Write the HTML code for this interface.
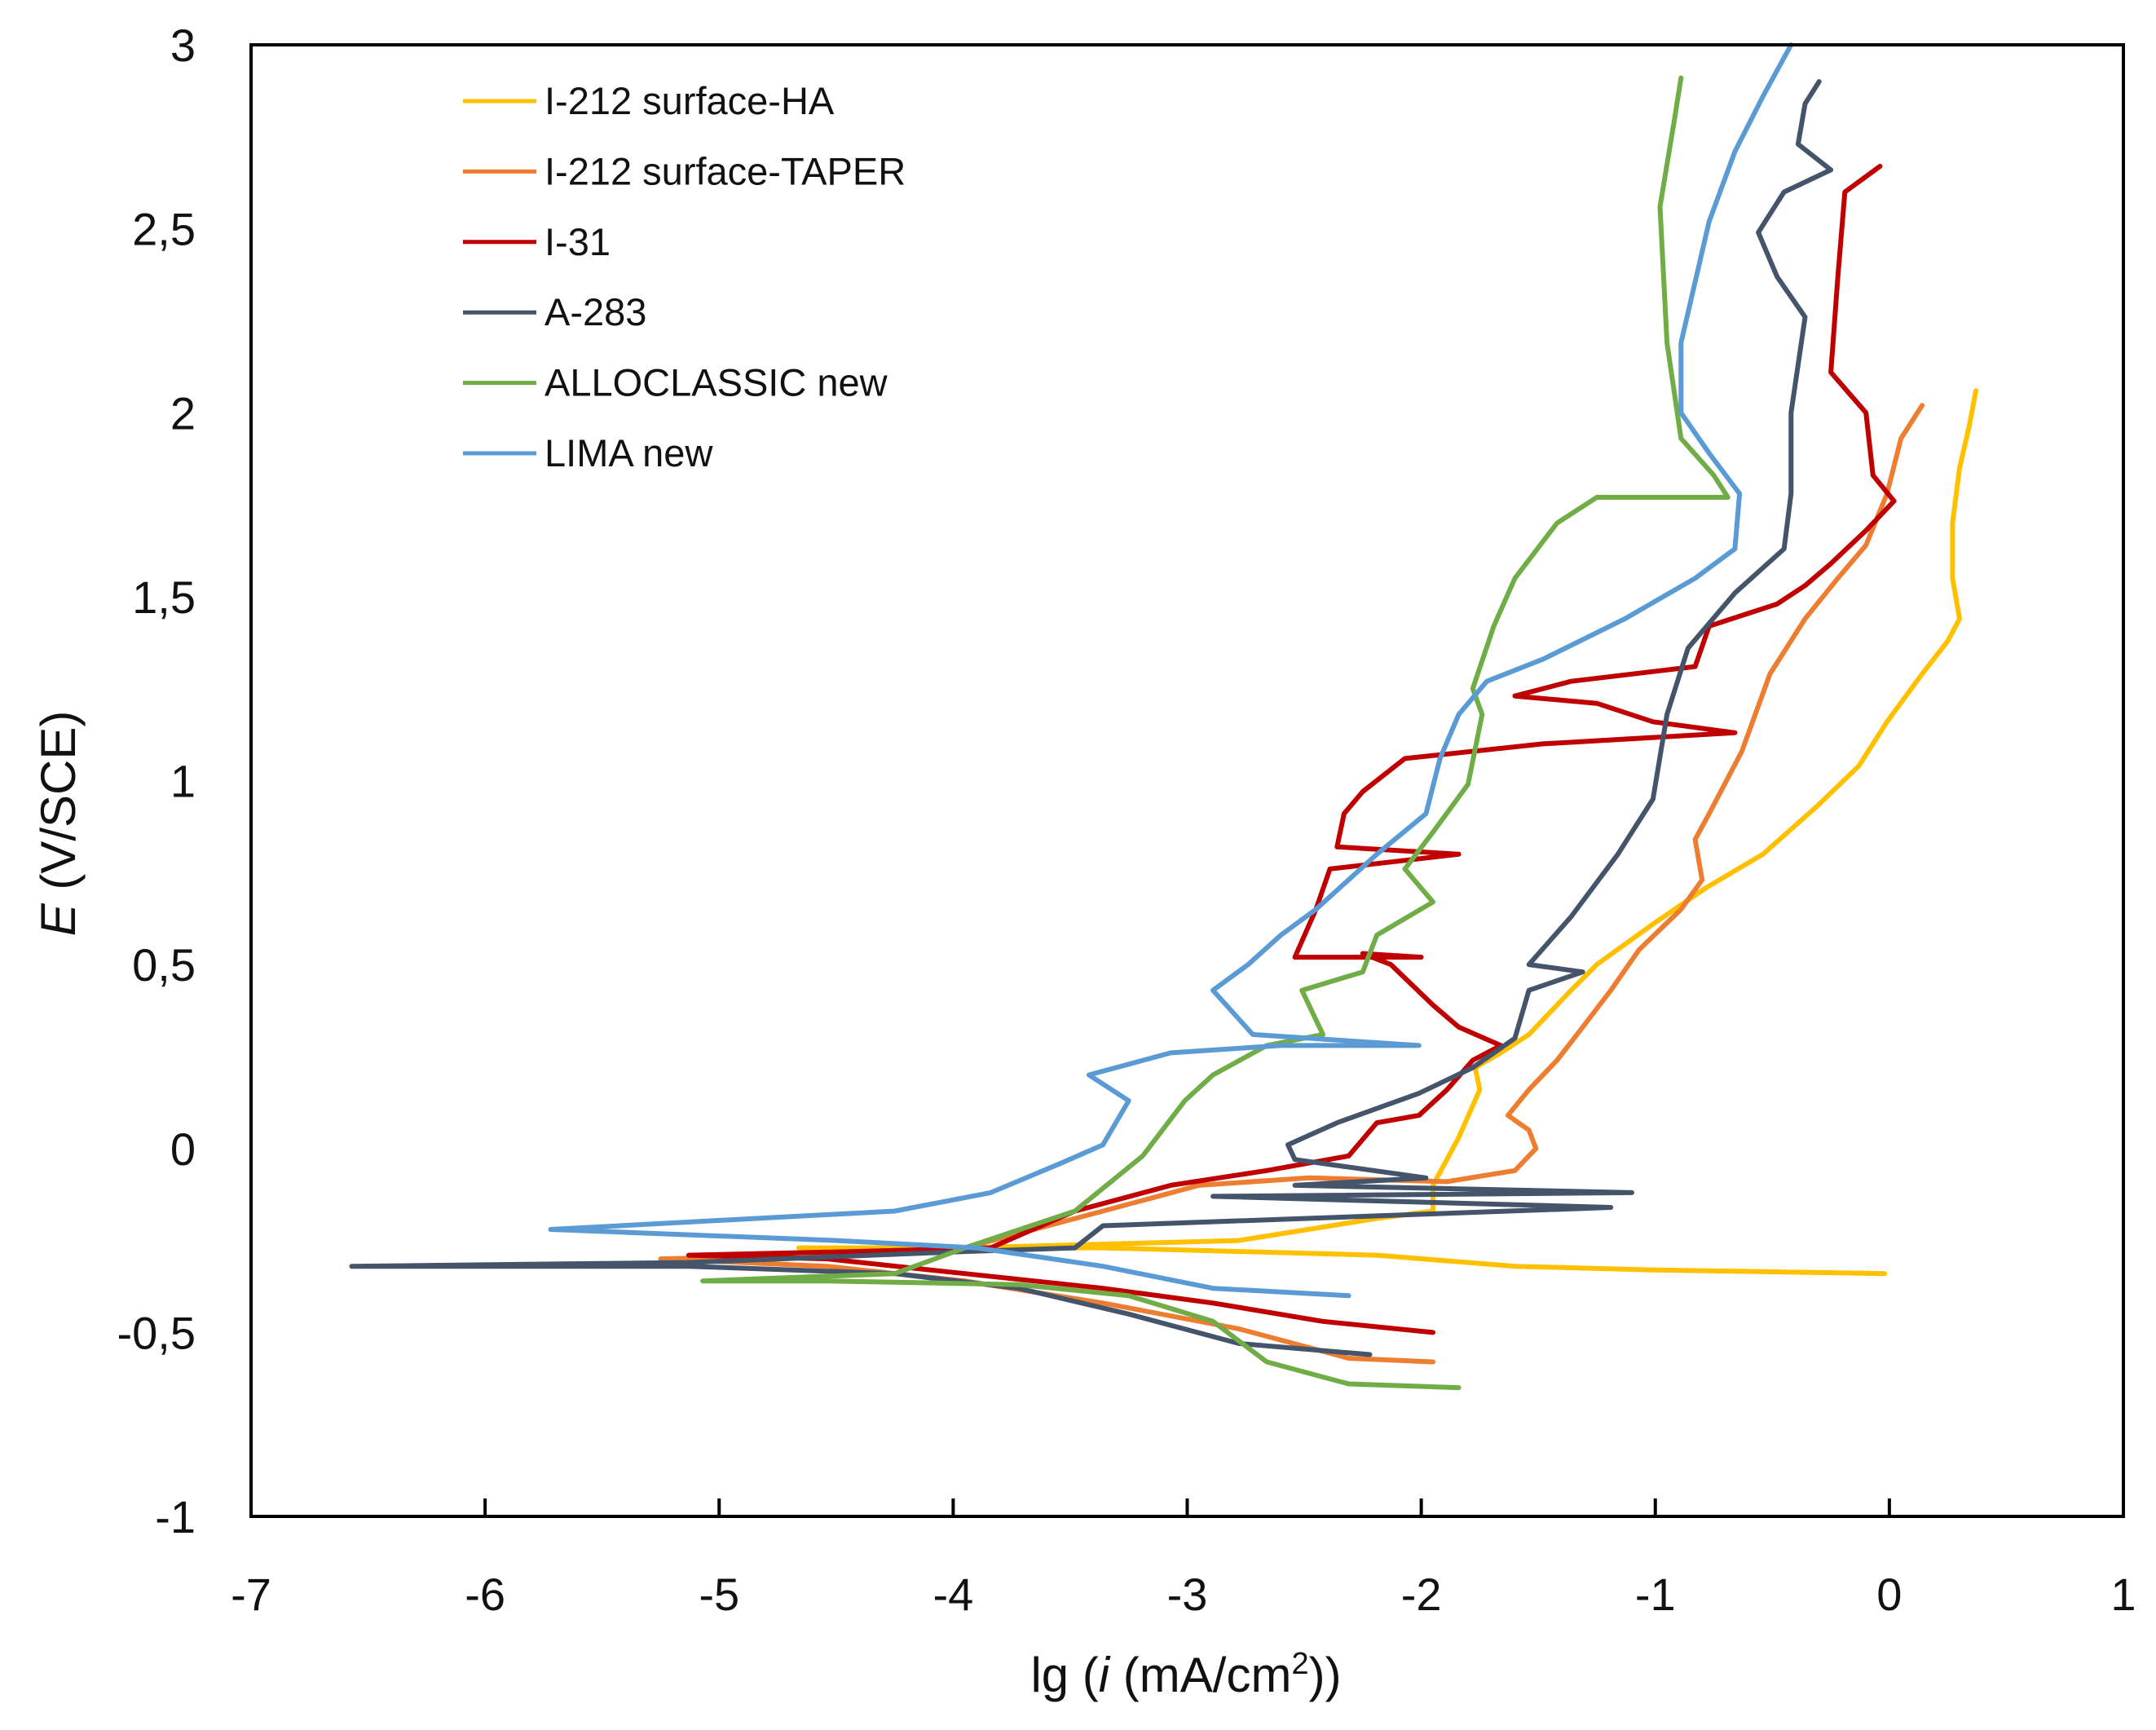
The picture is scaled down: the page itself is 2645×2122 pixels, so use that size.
<!DOCTYPE html>
<html><head><meta charset="utf-8"><style>
html,body{margin:0;padding:0;background:#fff;}
svg text{font-family:"Liberation Sans",sans-serif;fill:#111;}
</style></head><body>
<svg id="chart" width="2645" height="2117" viewBox="0 0 2645 2117" xmlns="http://www.w3.org/2000/svg">
<g id="grid"></g>
<g id="series"></g>
<g id="axes"></g>
<g id="legend"></g>
</svg>
<script>
const xTicks=[-7,-6,-5,-4,-3,-2,-1,0,1];
const yTicks=[-1,-0.5,0,0.5,1,1.5,2,2.5,3];
const yTickLabels=["-1","-0,5","0","0,5","1","1,5","2","2,5","3"];
const seriesNames=["I-212 surface-HA","I-212 surface-TAPER","I-31","A-283","ALLOCLASSIC new","LIMA new"];
const seriesColors=["#FFC000","#ED7D31","#C00000","#44546A","#70AD47","#5B9BD5"];
const haX=[-0.02,-1.01,-1.6,-2.19,-3.36,-4.66,-3.95,-2.78,-2.19,-1.95,-1.95,-1.84,-1.75,-1.77,-1.66,-1.54,-1.36,-1.25,-1.01,-0.78,-0.54,-0.31,-0.13,-0.01,0.14,0.25,0.30,0.27,0.27,0.30,0.34,0.37];
const haY=[-0.34,-0.33,-0.32,-0.29,-0.27,-0.27,-0.27,-0.25,-0.19,-0.17,-0.10,0.03,0.16,0.22,0.26,0.31,0.43,0.50,0.61,0.71,0.80,0.93,1.04,1.16,1.29,1.38,1.44,1.55,1.70,1.85,1.96,2.06];
const taperX=[-1.95,-2.31,-2.78,-3.36,-3.95,-4.54,-5.25,-4.54,-3.95,-3.36,-2.95,-2.48,-1.89,-1.6,-1.51,-1.54,-1.63,-1.54,-1.42,-1.31,-1.19,-1.07,-0.89,-0.8,-0.83,-0.77,-0.63,-0.51,-0.36,-0.22,-0.1,-0.01,0.05,0.14];
const taperY=[-0.58,-0.57,-0.49,-0.42,-0.36,-0.32,-0.30,-0.29,-0.27,-0.17,-0.10,-0.08,-0.09,-0.06,0.0,0.05,0.09,0.16,0.24,0.33,0.43,0.54,0.65,0.73,0.84,0.91,1.08,1.29,1.44,1.55,1.64,1.78,1.93,2.02];
const i31X=[-1.95,-2.42,-2.89,-3.36,-3.95,-4.54,-5.13,-4.42,-3.84,-3.48,-3.07,-2.66,-2.31,-2.19,-2.01,-1.89,-1.78,-1.66,-1.84,-1.95,-2.13,-2.25,-2.0,-2.54,-2.45,-2.39,-1.84,-2.36,-2.33,-2.25,-2.07,-1.48,-0.66,-1.01,-1.25,-1.6,-1.36,-0.83,-0.77,-0.48,-0.36,-0.25,-0.1,0.02,-0.07,-0.1,-0.25,-0.22,-0.19,-0.04];
const i31Y=[-0.50,-0.47,-0.42,-0.38,-0.34,-0.30,-0.29,-0.28,-0.27,-0.17,-0.10,-0.06,-0.02,0.07,0.09,0.16,0.24,0.28,0.33,0.39,0.50,0.53,0.52,0.52,0.65,0.76,0.80,0.82,0.91,0.97,1.06,1.10,1.13,1.16,1.21,1.23,1.27,1.31,1.42,1.48,1.53,1.59,1.68,1.76,1.83,2.0,2.11,2.37,2.60,2.67];
const a283X=[-2.22,-2.78,-3.25,-3.72,-4.25,-5.13,-6.57,-5.13,-3.95,-3.48,-3.36,-1.19,-2.89,-1.1,-2.54,-1.98,-2.54,-2.57,-2.36,-2.01,-1.78,-1.6,-1.54,-1.31,-1.54,-1.36,-1.16,-1.01,-0.95,-0.86,-0.66,-0.45,-0.42,-0.42,-0.36,-0.48,-0.56,-0.45,-0.25,-0.39,-0.36,-0.3];
const a283Y=[-0.56,-0.53,-0.45,-0.38,-0.34,-0.32,-0.32,-0.31,-0.28,-0.27,-0.21,-0.16,-0.13,-0.12,-0.10,-0.08,-0.03,0.01,0.07,0.15,0.22,0.30,0.43,0.48,0.50,0.63,0.80,0.95,1.18,1.36,1.51,1.63,1.78,2.0,2.26,2.37,2.49,2.60,2.66,2.73,2.84,2.9];
const alloX=[-1.84,-2.31,-2.66,-2.89,-3.25,-3.72,-4.54,-5.07,-4.25,-3.95,-3.48,-3.19,-3.01,-2.89,-2.66,-2.42,-2.51,-2.25,-2.19,-1.95,-2.07,-1.95,-1.8,-1.74,-1.78,-1.69,-1.6,-1.42,-1.25,-0.69,-0.75,-0.89,-0.95,-0.98,-0.92,-0.89];
const alloY=[-0.65,-0.64,-0.58,-0.47,-0.40,-0.37,-0.36,-0.36,-0.34,-0.27,-0.17,-0.02,0.13,0.20,0.28,0.31,0.43,0.48,0.58,0.67,0.76,0.86,0.99,1.18,1.25,1.42,1.55,1.70,1.77,1.77,1.83,1.93,2.19,2.56,2.79,2.91];
const limaX=[-2.31,-2.89,-3.36,-3.9,-4.5,-5.72,-4.84,-4.25,-3.84,-3.54,-3.36,-3.25,-3.42,-3.07,-2.6,-2.01,-2.72,-2.89,-2.74,-2.6,-2.45,-2.19,-1.98,-1.92,-1.84,-1.72,-1.48,-1.13,-0.83,-0.66,-0.64,-0.77,-0.89,-0.89,-0.77,-0.66,-0.54,-0.42];
const limaY=[-0.40,-0.38,-0.32,-0.27,-0.25,-0.22,-0.19,-0.17,-0.12,-0.04,0.01,0.13,0.20,0.26,0.28,0.28,0.31,0.43,0.50,0.58,0.65,0.80,0.91,1.06,1.18,1.27,1.33,1.44,1.55,1.63,1.78,1.89,2.0,2.19,2.52,2.71,2.86,3.0];
const seriesX=[haX,taperX,i31X,a283X,alloX,limaX];
const seriesY=[haY,taperY,i31Y,a283Y,alloY,limaY];

const L=308,R=2605,T=55,B=1860;
const xMin=-7,xMax=1,yMin=-1,yMax=3;
function sx(v){return L+(v-xMin)/(xMax-xMin)*(R-L);}
function sy(v){return B-(v-yMin)/(yMax-yMin)*(B-T);}
const NS="http://www.w3.org/2000/svg";
function mk(tag,attrs,parent){const e=document.createElementNS(NS,tag);for(const k in attrs)e.setAttribute(k,attrs[k]);parent.appendChild(e);return e;}

const sg=document.getElementById('series');
seriesX.forEach((xs,i)=>{
  const d=xs.map((x,j)=>(j?'L':'M')+sx(x).toFixed(1)+' '+sy(seriesY[i][j]).toFixed(1)).join(' ');
  const p=mk('path',{d:d,fill:'none',stroke:seriesColors[i],'stroke-width':6,'stroke-linejoin':'round','stroke-linecap':'round'},sg);
  
  
});

const ax=document.getElementById('axes');
const frame=mk('rect',{x:L,y:T,width:R-L,height:B-T,fill:'none',stroke:'#000','stroke-width':4},ax);


xTicks.forEach(v=>{
  const t=mk('line',{x1:sx(v),x2:sx(v),y1:B,y2:B-22,stroke:'#000','stroke-width':4},ax);
  
  
  const l=mk('text',{x:sx(v),y:B+115,'text-anchor':'middle','font-size':56},ax);
  l.textContent=String(v);
  
  
});
yTicks.forEach((v,i)=>{
  const l=mk('text',{x:240,y:sy(v)+20,'text-anchor':'end','font-size':56},ax);
  l.textContent=yTickLabels[i];
  
  
});
const xt=mk('text',{x:1455,y:2075,'text-anchor':'middle','font-size':60},ax);
xt.innerHTML='lg (<tspan font-style="italic">i</tspan> (mA/cm<tspan font-size="38" dy="-22">2</tspan><tspan dy="22">))</tspan>';


const yt=mk('text',{x:0,y:0,'text-anchor':'middle','font-size':60,transform:'translate(92,1010) rotate(-90)'},ax);
yt.innerHTML='<tspan font-style="italic">E</tspan> (V/SCE)';



const lg=document.getElementById('legend');
seriesNames.forEach((n,i)=>{
  const y=124+i*86.4;
  const g=mk('g',{},lg);
  
  
  mk('line',{x1:568,x2:658,y1:y,y2:y,stroke:seriesColors[i],'stroke-width':5},g);
  const t=mk('text',{x:668,y:y+16,'font-size':47},g);
  t.textContent=n;
});
</script>
</body></html>
